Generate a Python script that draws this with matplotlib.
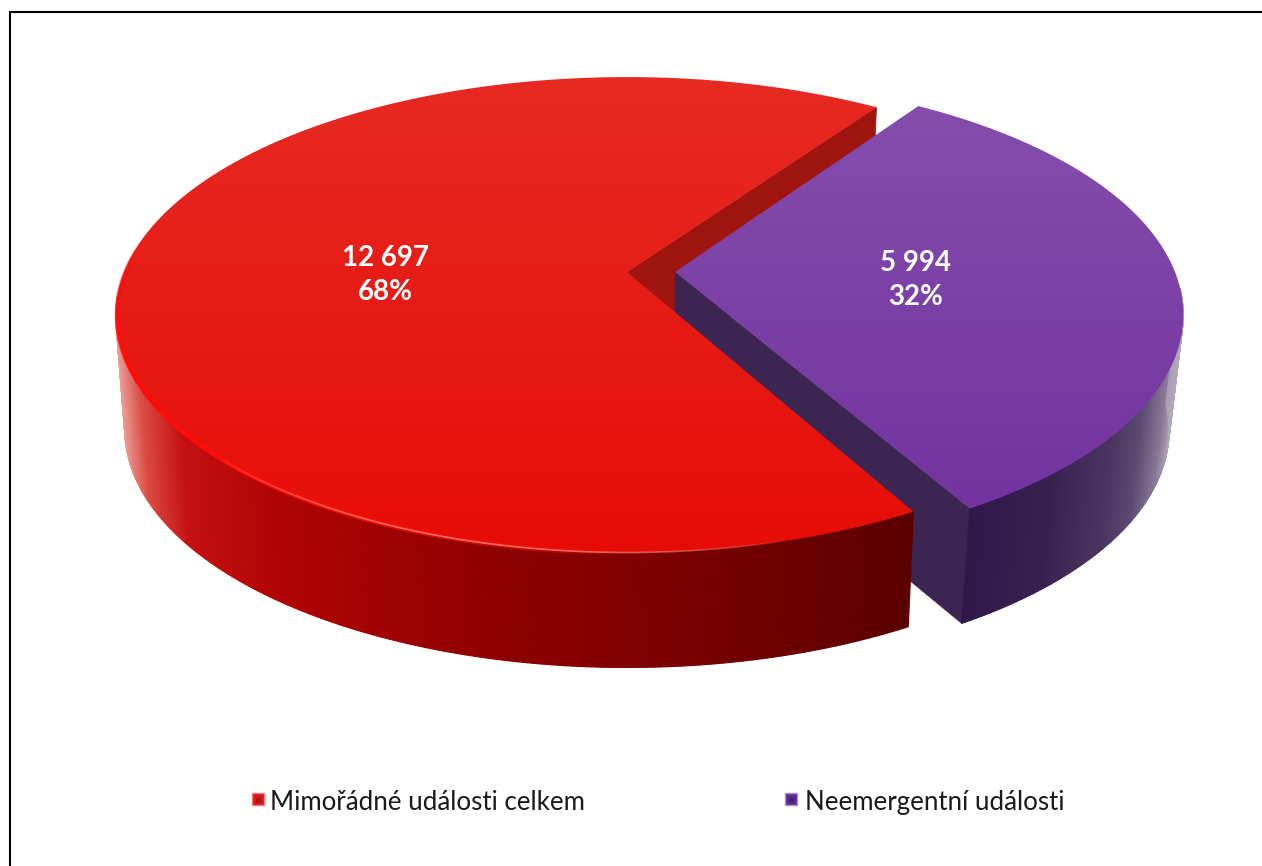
import matplotlib
matplotlib.use("Agg")
import matplotlib.pyplot as plt
import numpy as np
from matplotlib.collections import LineCollection, PolyCollection
from matplotlib.colors import LinearSegmentedColormap, to_rgb
from matplotlib.patches import Polygon, Rectangle

categories = ["Mimořádné události celkem", "Neemergentní události"]
values = [12697, 5994]
percents = ["68%", "32%"]

W, H = 1262, 866
B, K = 230, 0.18   # vertical radius and perspective
DEPTH = 115
START = 55.3

plt.rcParams['font.family'] = ['Lato', 'DejaVu Sans']
fig = plt.figure(figsize=(W / 100, H / 100), dpi=100)
ax = fig.add_axes([0, 0, 1, 1])
ax.set_xlim(0, W)
ax.set_ylim(H, 0)
ax.axis('off')


def top(t, cx, a):
    t = np.radians(t)
    w = 1 + K * np.sin(t)
    return cx + a * np.cos(t) / w, 272 - B * np.sin(t) / w


def low(t, cx, a, shrink):
    x, y = top(t, cx, a)
    return cx + (x - cx) * shrink, y + DEPTH


def grad_surface(t0, t1, cx, a, c_top, c_bot, z):
    ts = np.linspace(t0, t1, 300)
    x, y = top(ts, cx, a)
    pts = np.vstack([[cx, 272], np.column_stack([x, y])])
    cmap = LinearSegmentedColormap.from_list("g", [c_top, c_bot])
    im = ax.imshow(np.linspace(0, 1, 256)[:, None], cmap=cmap, aspect='auto',
                   extent=[0, W, 560, 70], zorder=z)
    ax.set_xlim(0, W)
    ax.set_ylim(H, 0)
    patch = Polygon(pts, closed=True, transform=ax.transData, fc='none', ec='none')
    ax.add_patch(patch)
    im.set_clip_path(patch)


def side(t0, t1, cx, a, shrink, stops, z):
    ts = np.linspace(t0, t1, 240)
    xt, yt = top(ts, cx, a)
    xb, yb = low(ts, cx, a, shrink)
    quads = [[(xt[i], yt[i]), (xt[i + 1], yt[i + 1]), (xb[i + 1], yb[i + 1]), (xb[i], yb[i])]
             for i in range(len(ts) - 1)]
    xs = np.array([p[0] for p in stops])
    rgb = np.array([to_rgb(p[1]) for p in stops])
    mid = (xb[:-1] + xb[1:]) / 2
    cols = np.column_stack([np.interp(mid, xs, rgb[:, i]) for i in range(3)])
    ax.add_collection(PolyCollection(quads, facecolors=cols, edgecolors=cols,
                                     linewidths=0.8, zorder=z))


def cut_face(t, cx, a, shrink, c, z):
    x, y = top(t, cx, a)
    xb, yb = low(t, cx, a, shrink)
    ax.add_patch(Polygon([(cx, 272), (x, y), (xb, yb), (cx, 272 + DEPTH)], closed=True,
                         fc=c, ec=c, lw=0.5, zorder=z))


def fade_line(t0, t1, cx, a, color, lw, alpha, z):
    ts = np.linspace(t0, t1, 160)
    x, y = top(ts, cx, a)
    pts = np.column_stack([x, y])
    segs = np.stack([pts[:-1], pts[1:]], axis=1)
    u = np.linspace(0, 1, len(segs))
    cols = np.tile(to_rgb(color) + (0.0,), (len(segs), 1))
    cols[:, 3] = alpha * np.sin(np.pi * u) ** 0.6
    ax.add_collection(LineCollection(segs, colors=cols, linewidths=lw, zorder=z))


sweep = [v / sum(values) * 360 for v in values]
red_end = START + sweep[0] - 1.2
purple_start = START + 0.7
purple_end = START - sweep[1]
RX, PX = 627, 675
RA, PA = 503, 500
RS, PS = 0.982, 0.972

# back faces first, red top surface last
cut_face(START, RX, RA, RS, '#a01410', 1)
cut_face(purple_end, PX, PA, PS, '#3c2550', 2)
side(purple_end, -4, PX, PA, PS, [(960, '#2e1848'), (1040, '#38204e'), (1100, '#4a3560'),
                                  (1130, '#5c4a72'), (1155, '#8a7a98'), (1170, '#b4acbc')], 3)
grad_surface(purple_end, purple_start, PX, PA, '#8650ad', '#7030a0', 4)
side(186, red_end, RX, RA, RS, [(122, '#ecb0a8'), (150, '#dc4a44'), (190, '#c41010'),
                                (280, '#b00404'), (500, '#8e0000'), (700, '#780000'),
                                (910, '#5a0000')], 6)
grad_surface(START, red_end, RX, RA, '#e72a24', '#e60c06', 7)

# rim highlights
fade_line(172, 270, RX - 1, RA * 0.995, '#ff0c08', 3.5, 1.0, 8)
fade_line(225, 285, RX, RA * 0.999, '#ff8a80', 1.2, 0.8, 9)

# labels
for v, p, (lx, ly) in zip(values, percents, [(385, 275), (916, 280)]):
    txt = f"{v:,}".replace(',', ' ') + "\n" + p
    ax.text(lx, ly, txt, color='white', fontsize=20, fontweight='bold', ha='center',
            va='center', linespacing=1.42, zorder=10)

# legend + frame
for name, mx, tx, c, e, d in zip(categories, [258, 791], [270, 805],
                                 ['#d81818', '#5c2a90'], ['#f08080', '#a890c8'],
                                 ['#a01010', '#3d1f66']):
    ax.add_patch(Rectangle((mx - 6, 792.5), 12, 12, fc=c, ec=e, lw=1, zorder=10))
    ax.add_patch(Rectangle((mx - 2, 798), 5, 5, fc=d, ec='none', alpha=0.7, zorder=10))
    ax.text(tx, 802.5, name, color='#1a1a1a', fontsize=18.6, ha='left', va='center', zorder=10)

ax.plot([10, 10, W], [H, 12, 12], color='black', lw=1.5, zorder=11, solid_joinstyle='miter')

fig.savefig("out.png", dpi=100)
